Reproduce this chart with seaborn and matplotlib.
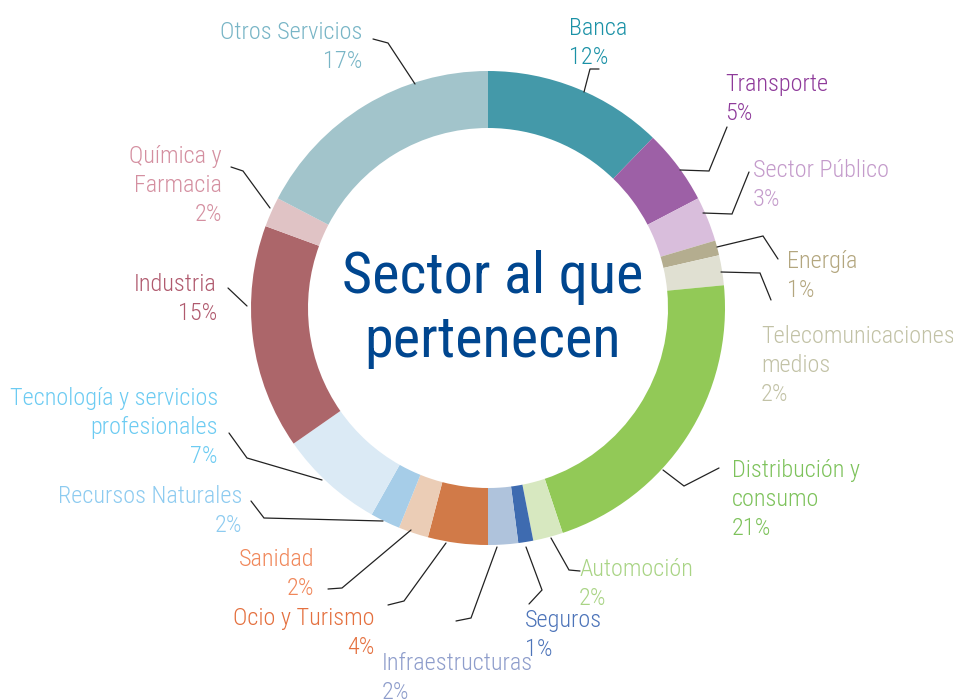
import matplotlib
matplotlib.use("Agg")
import matplotlib.pyplot as plt
import seaborn as sns
from matplotlib import font_manager as fm

# ---------------- data ----------------
sectors = ["Banca", "Transporte", "Sector Público", "Energía", "Telecomunicaciones\nmedios",
           "Distribución y\nconsumo", "Automoción", "Seguros", "Infraestructuras",
           "Ocio y Turismo", "Sanidad", "Recursos Naturales",
           "Tecnología y servicios\nprofesionales", "Industria", "Química y\nFarmacia",
           "Otros Servicios"]
shares = [12, 5, 3, 1, 2, 21, 2, 1, 2, 4, 2, 2, 7, 15, 2, 17]
share_labels = ["12%", "5%", "3%", "1%", "2%", "21%", "2%", "1%", "2%", "4%", "2%",
                "2%", "7%", "15%", "2%", "17%"]

wedge_colors = ["#4499A9", "#9D60A6", "#D9BEDC", "#B4AD8F", "#E0E0D2", "#92C957",
                "#D7E8C0", "#3E6BB0", "#AFC3DC", "#D17A48", "#EBCDB6", "#A6CDE8",
                "#DBEAF5", "#AC666A", "#E0C3C5", "#A2C4CB"]
text_colors = ["#1A91A6", "#8E3A9A", "#C49BCB", "#B3A67E", "#C2C2A6", "#7DC25B",
               "#A9D485", "#4D74B9", "#8E9DCB", "#E4703F", "#F0875A", "#8DCBF0",
               "#6CCBF2", "#B05A6E", "#D48FA0", "#78B5C6"]
title_lines = ["Sector al que", "pertenecen"]

# ---------------- layout (pixels) ----------------
W, H = 954, 700
CENTER = (488, 308)
R_OUT = 237
RING = 57
label_pos = [(569, 35, "left"), (725, 91, "left"), (753, 177, "left"), (787, 268, "left"),
             (761, 343, "left"), (732, 477, "left"), (579, 576, "left"), (525, 627, "left"),
             (382, 670, "left"), (375, 625, "right"), (314, 566, "right"), (242, 503, "right"),
             (218, 405, "right"), (217, 291, "right"), (222, 163, "right"), (362, 39, "right")]
leaders = [[(599, 69), (590, 69), (584, 92)],
           [(727, 127), (709, 171), (680, 170)],
           [(749, 172), (732, 214), (703, 213)],
           [(778, 259), (763, 236), (717, 247)],
           [(771, 300), (760, 273), (721, 272)],
           [(719, 468), (684, 486), (663, 470)],
           [(580, 571), (569, 570), (551, 538)],
           [(529, 604), (542, 590), (526, 547)],
           [(456, 621), (471, 618), (497, 547)],
           [(388, 605), (404, 601), (446, 543)],
           [(328, 589), (342, 588), (411, 530)],
           [(251, 501), (264, 518), (383, 521)],
           [(229, 433), (247, 458), (322, 480)],
           [(228, 288), (247, 306)],
           [(231, 167), (243, 171), (270, 208)],
           [(373, 39), (388, 43), (415, 84)]]
LINE_H = 29
TITLE_POS = [(493, 293), (493, 357)]
LABEL_REF_W = 143   # pixel width of "Otros Servicios" in the reference
TITLE_REF_W = 301   # pixel width of "Sector al que"

sns.set_theme(style="white")
names = {f.name for f in fm.fontManager.ttflist}
family = next((p for p in ["Roboto Condensed", "Archivo Narrow", "Asap Condensed"] if p in names),
              "DejaVu Sans")
plt.rcParams["font.family"] = [family, "DejaVu Sans"]

fig = plt.figure(figsize=(W / 100, H / 100), dpi=100)
ax = fig.add_axes([0, 0, 1, 1])
ax.pie(shares, colors=wedge_colors, center=CENTER, radius=R_OUT, startangle=-90,
       counterclock=True, wedgeprops=dict(width=RING, linewidth=0))
ax.set_xlim(0, W)
ax.set_ylim(H, 0)
ax.set_aspect("equal")
ax.axis("off")

renderer = fig.canvas.get_renderer()


def fit_size(s, target, base, weight):
    t = ax.text(0, 0, s, fontsize=base, fontweight=weight)
    w = t.get_window_extent(renderer).width
    t.remove()
    return base * target / w


lab_fs = fit_size("Otros Servicios", LABEL_REF_W, 19, "light")
tit_fs = fit_size(title_lines[0], TITLE_REF_W, 46, "normal")

for name, pct, col, (x, y, ha), pts in zip(sectors, share_labels, text_colors, label_pos, leaders):
    lines = name.split("\n") + [pct]
    for i, ln in enumerate(lines):
        ax.text(x, y + i * LINE_H, ln, color=col, fontsize=lab_fs, ha=ha, va="baseline",
                fontweight="light")
    xs, ys = zip(*pts)
    ax.plot(xs, ys, color="#222222", lw=0.9, solid_joinstyle="miter")

for (x, y), s in zip(TITLE_POS, title_lines):
    ax.text(x, y, s, color="#00468F", fontsize=tit_fs, ha="center", va="baseline")

fig.savefig("out.png", dpi=100)
